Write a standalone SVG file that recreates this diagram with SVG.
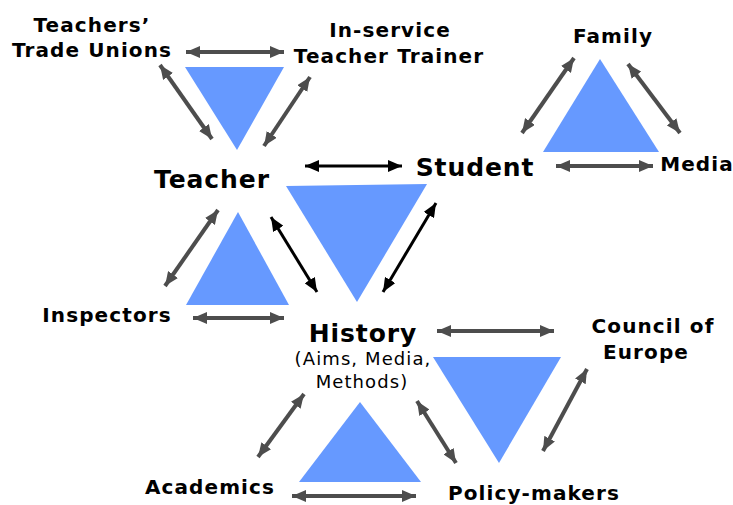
<svg xmlns="http://www.w3.org/2000/svg" width="733" height="505" viewBox="0 0 733 505">
  <style>
    .tri { fill: #6699ff; }
    .lbl { font-family: "DejaVu Sans", Verdana, sans-serif; font-weight: bold; fill: #000; text-anchor: middle; }
    .sm { font-size: 20px; letter-spacing: 1.1px; }
    .big { font-size: 25px; letter-spacing: 0.9px; }
    .sub { font-family: "DejaVu Sans", Verdana, sans-serif; font-size: 18px; letter-spacing: 1.1px; fill: #000; text-anchor: middle; }
    .g { stroke: #4d4d4d; stroke-width: 4; fill: none; marker-start: url(#hg); marker-end: url(#hg); }
    .k { stroke: #000; stroke-width: 3; fill: none; marker-start: url(#hk); marker-end: url(#hk); }
  </style>
  <defs>
    <marker id="hg" markerUnits="userSpaceOnUse" markerWidth="14" markerHeight="12" refX="14" refY="6" orient="auto-start-reverse">
      <path d="M0,0 L14,6 L0,12 z" fill="#4d4d4d"/>
    </marker>
    <marker id="hk" markerUnits="userSpaceOnUse" markerWidth="14" markerHeight="12" refX="14" refY="6" orient="auto-start-reverse">
      <path d="M0,0 L14,6 L0,12 z" fill="#000"/>
    </marker>
  </defs>

  <!-- blue triangles between the label groups -->
  <g id="triangles">
    <polygon class="tri" points="185,67 284,67 237,150"/>
    <polygon class="tri" points="600,59 543,152 659,152"/>
    <polygon class="tri" points="286,186 427,184 357,302"/>
    <polygon class="tri" points="238,212 186,305 289,305"/>
    <polygon class="tri" points="360,402 299,482 421,482"/>
    <polygon class="tri" points="433,357 561,357 499,463"/>
  </g>

  <!-- two-headed connectors: grey for outer links, black for the central triangle -->
  <g id="connectors">
    <line class="g" x1="186" y1="52" x2="284" y2="52"/>
    <line class="g" x1="160" y1="65" x2="212" y2="139"/>
    <line class="g" x1="310" y1="77" x2="264" y2="146"/>
    <line class="k" x1="305" y1="166" x2="402" y2="166"/>
    <line class="g" x1="574" y1="58" x2="522" y2="133"/>
    <line class="g" x1="628" y1="64" x2="680" y2="133"/>
    <line class="g" x1="556" y1="166" x2="653" y2="166"/>
    <line class="g" x1="218" y1="210" x2="165" y2="286"/>
    <line class="k" x1="271" y1="217" x2="317" y2="292"/>
    <line class="g" x1="193" y1="318" x2="284" y2="318"/>
    <line class="k" x1="436" y1="203" x2="383" y2="292"/>
    <line class="g" x1="437" y1="331" x2="554" y2="331"/>
    <line class="g" x1="304" y1="394" x2="258" y2="457"/>
    <line class="g" x1="417" y1="401" x2="456" y2="463"/>
    <line class="g" x1="292" y1="496" x2="416" y2="496"/>
    <line class="g" x1="587" y1="369" x2="543" y2="451"/>
  </g>

  <g id="trade-unions"><text class="lbl sm" x="92" y="32">Teachers’</text><text class="lbl sm" x="92" y="57">Trade Unions</text></g>
  <g id="teacher-trainer"><text class="lbl sm" x="390" y="37">In-service</text><text class="lbl sm" x="389" y="63">Teacher Trainer</text></g>
  <g id="family"><text class="lbl sm" x="613" y="43">Family</text></g>
  <g id="media"><text class="lbl sm" x="697" y="171">Media</text></g>
  <g id="student"><text class="lbl big" x="475" y="176">Student</text></g>
  <g id="teacher"><text class="lbl big" x="212" y="188">Teacher</text></g>
  <g id="inspectors"><text class="lbl sm" x="107" y="322">Inspectors</text></g>
  <g id="history">
    <text class="lbl big" x="363" y="342">History</text>
    <text class="sub" x="363" y="365">(Aims, Media,</text>
    <text class="sub" x="362" y="388">Methods)</text>
  </g>
  <g id="council"><text class="lbl sm" x="653" y="333">Council of</text><text class="lbl sm" x="646" y="359">Europe</text></g>
  <g id="academics"><text class="lbl sm" x="210" y="494">Academics</text></g>
  <g id="policy-makers"><text class="lbl sm" x="534" y="500">Policy-makers</text></g>
</svg>
